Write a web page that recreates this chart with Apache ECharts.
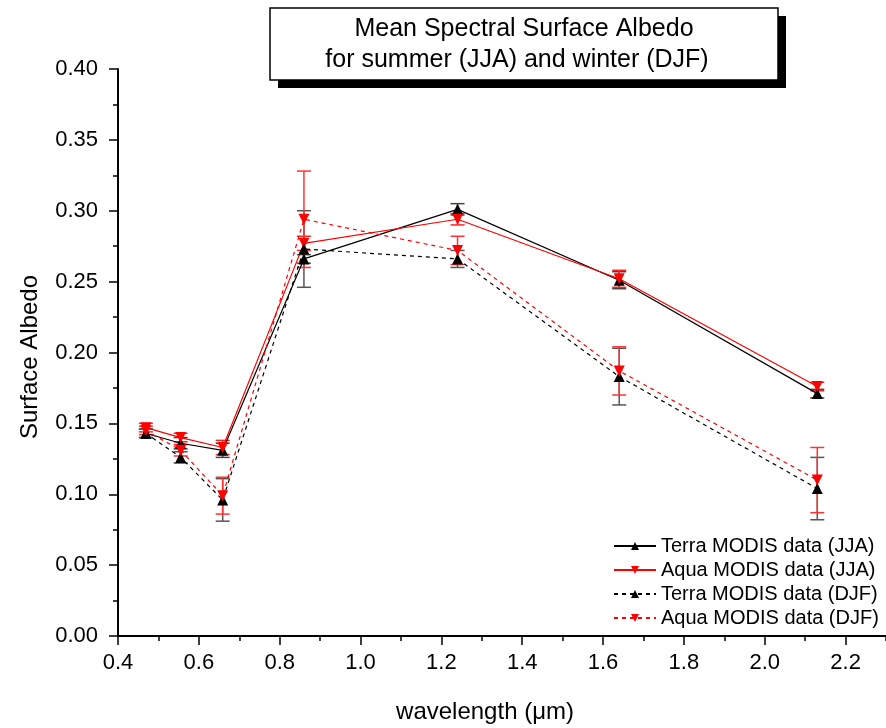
<!DOCTYPE html>
<html><head><meta charset="utf-8">
<script src="https://cdn.jsdelivr.net/npm/echarts@6/dist/echarts.min.js"></script>
<style>html,body{margin:0;padding:0;background:#fff}#c{width:886px;height:728px}</style>
</head><body><div id="c"></div>
<script>
const wavelength = [0.469, 0.555, 0.659, 0.86, 1.24, 1.64, 2.13];
const terraJJA = [0.143, 0.136, 0.131, 0.266, 0.301, 0.251, 0.171];
const terraJJAErr = [0.003, 0.004, 0.005, 0.003, 0.004, 0.006, 0.003];
const aquaJJA = [0.147, 0.140, 0.133, 0.277, 0.294, 0.252, 0.176];
const aquaJJAErr = [0.003, 0.003, 0.005, 0.005, 0.004, 0.006, 0.003];
const terraDJF = [0.143, 0.126, 0.096, 0.273, 0.266, 0.183, 0.104];
const terraDJFErr = [0.003, 0.004, 0.015, 0.027, 0.006, 0.020, 0.022];
const aquaDJF = [0.145, 0.131, 0.099, 0.294, 0.272, 0.187, 0.110];
const aquaDJFErr = [0.003, 0.004, 0.013, 0.034, 0.010, 0.017, 0.023];
const xMajorTicks = [0.4, 0.6, 0.8, 1.0, 1.2, 1.4, 1.6, 1.8, 2.0, 2.2];
const xMinorTicks = [0.5, 0.7, 0.9, 1.1, 1.3, 1.5, 1.7, 1.9, 2.1, 2.3];

const FONT = 'Liberation Sans, Arial, sans-serif';
const chart = echarts.init(document.getElementById('c'));

function pts(ys){ return wavelength.map((x,i)=>[x, ys[i]]); }
function errPts(ys, es){ return wavelength.map((x,i)=>[x, ys[i], es[i]]); }

function errSeries(ys, es, color){
  return {
    type: 'custom', xAxisIndex: 0, yAxisIndex: 0, z: 1, silent: true,
    data: errPts(ys, es),
    encode: {x: 0, y: 1},
    renderItem: function(params, api){
      const x = api.value(0), y = api.value(1), e = api.value(2);
      const top = api.coord([x, y + e]);
      const bot = api.coord([x, y - e]);
      const hw = 7;
      const st = {stroke: color, lineWidth: 1.5};
      return {type: 'group', children: [
        {type: 'line', shape: {x1: top[0], y1: top[1], x2: bot[0], y2: bot[1]}, style: st},
        {type: 'line', shape: {x1: top[0]-hw, y1: top[1], x2: top[0]+hw, y2: top[1]}, style: st},
        {type: 'line', shape: {x1: bot[0]-hw, y1: bot[1], x2: bot[0]+hw, y2: bot[1]}, style: st}
      ]};
    }
  };
}

function lineSeries(name, ys, color, dashed, down){
  return {
    name: name, type: 'line', xAxisIndex: 0, yAxisIndex: 0, z: 3,
    data: pts(ys),
    symbol: 'triangle', symbolSize: 11, symbolRotate: down ? 180 : 0,
    showSymbol: true,
    itemStyle: {color: color, borderWidth: 0},
    lineStyle: {color: color, width: 1.2, type: dashed ? [4, 4] : 'solid'},
    emphasis: {disabled: true},
    animation: false
  };
}

const option = {
  animation: false,
  backgroundColor: '#fff',
  grid: {left: 118, top: 69, width: 771, height: 567, containLabel: false},
  xAxis: [
    {type: 'value', min: 0.4, max: 2.3, interval: 0.1,
     axisLine: {show: true, lineStyle: {color: '#000', width: 2}},
     axisTick: {show: true, inside: false, length: 9, lineStyle: {color: '#000', width: 1.5}, customValues: xMajorTicks},
     axisLabel: {show: true, customValues: xMajorTicks, margin: 16, color: '#000', fontFamily: FONT, fontSize: 22,
       formatter: v => v.toFixed(1)},
     splitLine: {show: false}},
    {type: 'value', min: 0.4, max: 2.3, interval: 0.1, position: 'bottom',
     axisLine: {show: false},
     axisTick: {show: true, inside: false, length: 5, lineStyle: {color: '#000', width: 1.5}, customValues: xMinorTicks},
     axisLabel: {show: false},
     splitLine: {show: false}}
  ],
  yAxis: [{type: 'value', min: 0, max: 0.4, interval: 0.05,
     axisLine: {show: true, lineStyle: {color: '#000', width: 2}},
     axisTick: {show: true, inside: false, length: 9, lineStyle: {color: '#000', width: 1.5}},
     minorTick: {show: true, splitNumber: 2, length: 5, lineStyle: {color: '#000', width: 1.5}},
     axisLabel: {margin: 20, color: '#000', fontFamily: FONT, fontSize: 22, formatter: v => v.toFixed(2)},
     splitLine: {show: false}}],
  legend: {
    orient: 'vertical', left: 608, top: 531, itemWidth: 42, itemHeight: 10, itemGap: 4,
    textStyle: {fontFamily: FONT, fontSize: 20, color: '#000'},
    data: ['Terra MODIS data (JJA)', 'Aqua MODIS data (JJA)', 'Terra MODIS data (DJF)', 'Aqua MODIS data (DJF)']
  },
  graphic: [
    {type: 'rect', shape: {x: 278, y: 16, width: 508, height: 72}, style: {fill: '#000'}, z: 10},
    {type: 'rect', shape: {x: 270, y: 8, width: 508, height: 72},
     style: {fill: '#fff', stroke: '#000', lineWidth: 1.5}, z: 11},
    {type: 'text', x: 524, y: 29, z: 12,
     style: {text: 'Mean Spectral Surface Albedo', fontFamily: FONT, fontSize: 25, fill: '#000', align: 'center', verticalAlign: 'middle'}},
    {type: 'text', x: 517, y: 60, z: 12,
     style: {text: 'for summer (JJA) and winter (DJF)', fontFamily: FONT, fontSize: 25, fill: '#000', align: 'center', verticalAlign: 'middle'}},
    {type: 'text', x: 485, y: 712, z: 11,
     style: {text: 'wavelength (μm)', fontFamily: FONT, fontSize: 24, fill: '#000', align: 'center', verticalAlign: 'middle'}},
    {type: 'text', x: 30, y: 357, rotation: Math.PI/2, z: 11,
     style: {text: 'Surface Albedo', fontFamily: FONT, fontSize: 24, fill: '#000', align: 'center', verticalAlign: 'middle'}}
  ],
  series: [
    errSeries(terraJJA, terraJJAErr, '#444'),
    errSeries(aquaJJA, aquaJJAErr, '#f22'),
    errSeries(terraDJF, terraDJFErr, '#555'),
    errSeries(aquaDJF, aquaDJFErr, '#f33'),
    lineSeries('Terra MODIS data (JJA)', terraJJA, '#000', false, false),
    lineSeries('Aqua MODIS data (JJA)', aquaJJA, '#ff0000', false, true),
    lineSeries('Terra MODIS data (DJF)', terraDJF, '#000', true, false),
    lineSeries('Aqua MODIS data (DJF)', aquaDJF, '#ff0000', true, true)
  ]
};
chart.setOption(option);
</script></body></html>
